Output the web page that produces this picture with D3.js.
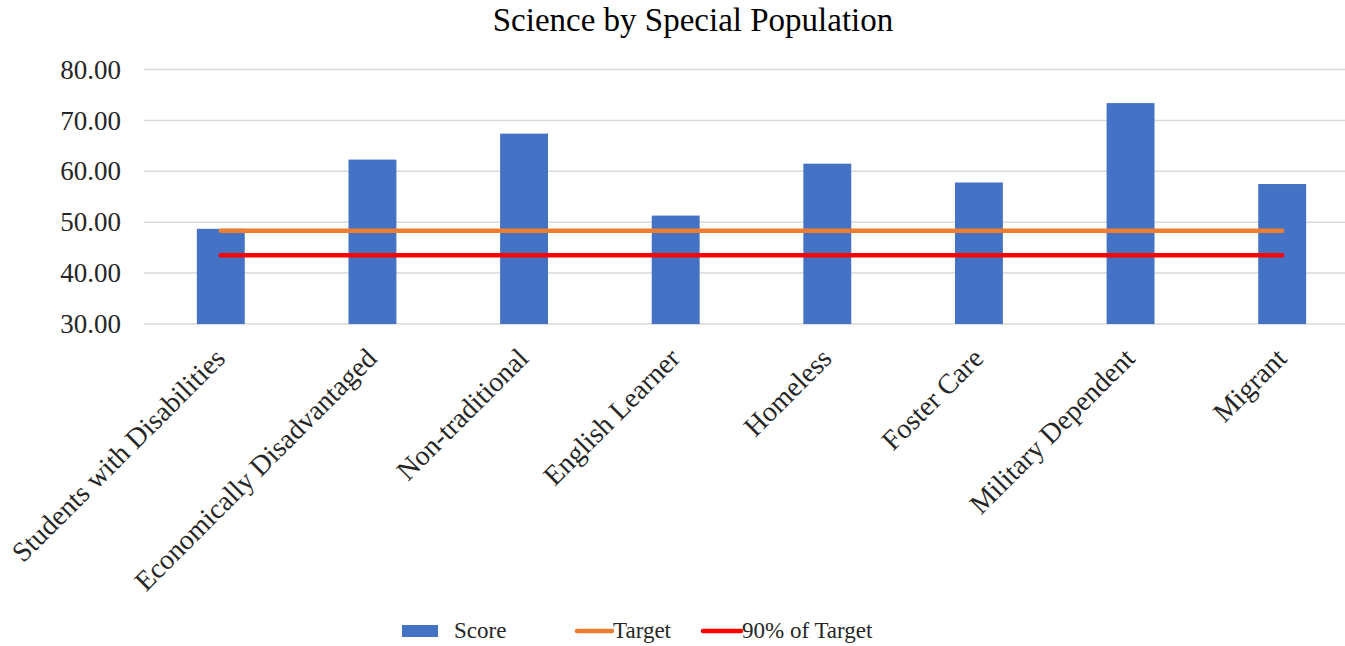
<!DOCTYPE html>
<html><head><meta charset="utf-8">
<script src="https://cdn.jsdelivr.net/npm/d3@7"></script>
<style>body{margin:0;background:#fff}svg{display:block}text{font-family:"Liberation Serif","Times New Roman",serif;fill:#262626}</style>
</head><body>
<svg id="c" width="1345" height="646"></svg>
<script>
const categories = ["Students with Disabilities","Economically Disadvantaged","Non-traditional","English Learner","Homeless","Foster Care","Military Dependent","Migrant"];
const scores = [48.7, 62.3, 67.4, 51.3, 61.5, 57.8, 73.4, 57.5];
const target = [48.3, 48.3, 48.3, 48.3, 48.3, 48.3, 48.3, 48.3];
const target90 = [43.5, 43.5, 43.5, 43.5, 43.5, 43.5, 43.5, 43.5];
const yTicks = [30, 40, 50, 60, 70, 80];
const seriesNames = ["Score", "Target", "90% of Target"];
const colors = {score: "#4472C4", target: "#ED7D31", t90: "#FF0000"};

const svg = d3.select("#c");
const x = d3.scaleBand().domain(categories).range([145, 1358]).paddingInner(0.684).paddingOuter(0.342);
const xc = d => x(d) + x.bandwidth() / 2;
const y = d3.scaleLinear().domain([30, 80]).range([324, 69.5]);

svg.append("text").attr("x", 693).attr("y", 31).attr("text-anchor", "middle")
  .style("font-size", "33px").style("fill", "#000").text("Science by Special Population");

// gridlines
svg.append("g").selectAll("line").data(yTicks).join("line")
  .attr("x1", 144).attr("x2", 1345).attr("y1", d => y(d)).attr("y2", d => y(d))
  .attr("stroke", "#d9d9d9").attr("stroke-width", 1.5);

// y axis
const ya = svg.append("g").attr("transform", "translate(121,0)")
  .call(d3.axisLeft(y).tickValues(yTicks).tickFormat(d3.format(".2f")).tickSize(0).tickPadding(0));
ya.select(".domain").remove();
ya.selectAll("text").style("font-size", "27px").style("font-family", "Liberation Serif").attr("fill", "#262626");

// bars
svg.append("g").selectAll("rect").data(scores).join("rect")
  .attr("x", (d, i) => x(categories[i])).attr("width", x.bandwidth())
  .attr("y", d => y(d)).attr("height", d => y(30) - y(d))
  .attr("fill", colors.score);

// lines
const line = d3.line().x((d, i) => xc(categories[i])).y(d => y(d));
svg.append("path").datum(target).attr("d", line).attr("fill", "none")
  .attr("stroke", colors.target).attr("stroke-width", 4.5).attr("stroke-linecap", "round");
svg.append("path").datum(target90).attr("d", line).attr("fill", "none")
  .attr("stroke", colors.t90).attr("stroke-width", 4.5).attr("stroke-linecap", "round");

// x axis labels
const xa = svg.append("g").attr("transform", "translate(0,324)")
  .call(d3.axisBottom(x).tickSize(0).tickPadding(0));
xa.select(".domain").remove();
xa.selectAll("text").style("font-size", "28px").style("font-family", "Liberation Serif").attr("fill", "#262626")
  .attr("text-anchor", "end").attr("dy", null).attr("y", 0)
  .attr("transform", "translate(6,36) rotate(-45)");

// legend
const lg = svg.append("g");
lg.append("rect").attr("x", 402).attr("y", 625).attr("width", 36).attr("height", 12).attr("fill", colors.score);
lg.append("text").attr("x", 454).attr("y", 638).style("font-size", "23px").text(seriesNames[0]);
lg.append("line").attr("x1", 577).attr("x2", 612).attr("y1", 631).attr("y2", 631)
  .attr("stroke", colors.target).attr("stroke-width", 4.5).attr("stroke-linecap", "round");
lg.append("text").attr("x", 613).attr("y", 638).style("font-size", "23px").text(seriesNames[1]);
lg.append("line").attr("x1", 703).attr("x2", 741).attr("y1", 631).attr("y2", 631)
  .attr("stroke", colors.t90).attr("stroke-width", 4.5).attr("stroke-linecap", "round");
lg.append("text").attr("x", 742).attr("y", 638).style("font-size", "23px").text(seriesNames[2]);
</script>
</body></html>
